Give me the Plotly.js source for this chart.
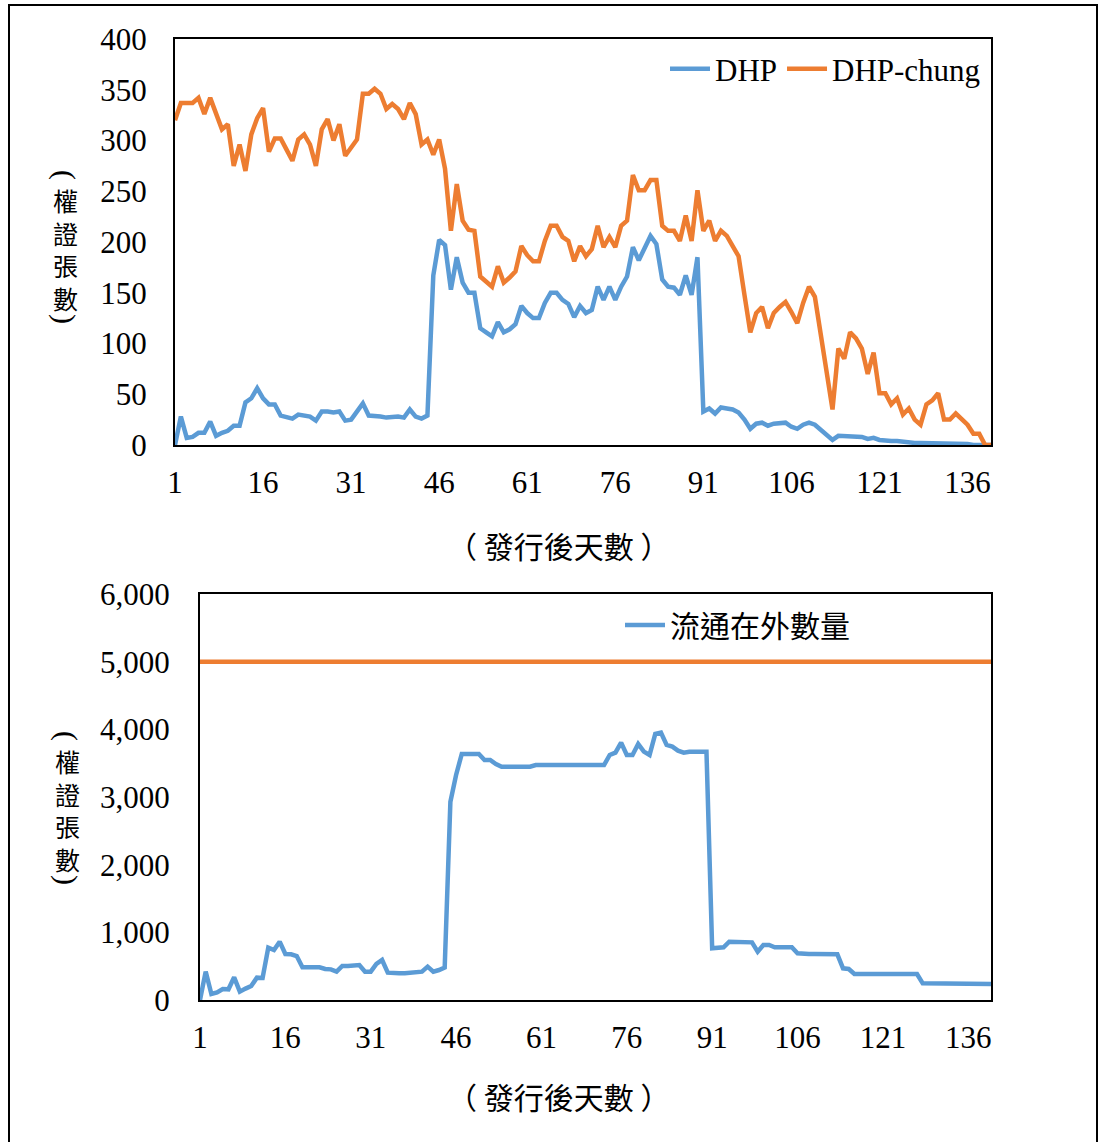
<!DOCTYPE html>
<html>
<head>
<meta charset="utf-8">
<script src="https://cdn.plot.ly/plotly-3.0.1.min.js"></script>
<style>
  html, body { margin: 0; padding: 0; background: #fff; }
  #chart { width: 1105px; height: 1142px; }
</style>
</head>
<body>
<div id="chart"></div>
<script>
// Days after issuance
const days = Array.from({length: 140}, (_, i) => i + 1);
const dayTicks = [1, 16, 31, 46, 61, 76, 91, 106, 121, 136];

// Top panel: warrant counts
const dhp = [
  0, 28, 7, 8, 12, 12, 23, 9, 12, 14,
  19, 19, 42, 46, 56, 46, 40, 40, 29, 27,
  26, 30, 29, 28, 24, 33, 33, 32, 33, 24,
  25, 33, 41, 29, 29, 28, 27, 28, 28, 27,
  35, 28, 26, 29, 167, 202, 197, 153, 185, 160,
  150, 150, 115, 111, 107, 121, 111, 114, 119, 137,
  130, 125, 125, 140, 150, 150, 143, 139, 126, 137,
  130, 133, 156, 143, 156, 143, 156, 166, 195, 182,
  195, 206, 198, 163, 156, 155, 148, 167, 148, 185,
  33, 36, 31, 37, 36, 35, 32, 25, 16, 21,
  22, 19, 21, 21, 22, 18, 16, 20, 22, 20,
  15, 10, 5, 9, 9, 9, 8, 8, 6, 7,
  5, 4, 4, 4, 3, 3, 2, 2, 2, 2,
  2, 2, 1, 1, 1, 1, 0, 0, 0, 0
];
const dhpChung = [
  320, 337, 337, 337, 342, 326, 342, 326, 311, 316,
  275, 296, 270, 306, 322, 332, 289, 302, 302, 291,
  280, 301, 306, 296, 275, 311, 321, 300, 316, 285,
  294, 301, 346, 346, 351, 346, 331, 336, 331, 321,
  337, 326, 296, 301, 286, 301, 272, 211, 257, 221,
  212, 211, 166, 161, 156, 176, 160, 165, 171, 196,
  187, 181, 181, 201, 216, 216, 205, 201, 181, 196,
  186, 193, 216, 195, 205, 195, 216, 221, 266, 251,
  251, 261, 261, 216, 211, 211, 201, 226, 201, 251,
  211, 221, 201, 211, 206, 196, 186, 148, 111, 130,
  136, 115, 130, 136, 141, 131, 120, 140, 156, 146,
  110, 75, 35, 95, 85, 111, 105, 95, 70, 91,
  51, 51, 40, 46, 30, 36, 25, 20, 40, 44,
  51, 25, 25, 31, 25, 20, 11, 11, 0, 0
];

// Bottom panel: outstanding quantity and issue size
const outstanding = [
  0, 419, 89, 113, 163, 158, 335, 123, 168, 207,
  330, 325, 773, 739, 862, 680, 675, 650, 483, 478,
  478, 483, 458, 453, 419, 503, 503, 517, 517, 419,
  419, 532, 591, 404, 394, 394, 394, 404, 409, 419,
  493, 419, 443, 480, 2931, 3326, 3636, 3636, 3636, 3636,
  3547, 3547, 3488, 3448, 3448, 3448, 3448, 3448, 3448, 3473,
  3473, 3473, 3473, 3473, 3473, 3473, 3473, 3473, 3473, 3473,
  3473, 3473, 3621, 3656, 3803, 3621, 3621, 3784, 3670, 3621,
  3932, 3951, 3769, 3744, 3685, 3656, 3670, 3670, 3656, 3670,
  764, 779, 779, 862, 862, 862, 852, 852, 714, 813,
  813, 779, 779, 779, 779, 690, 680, 680, 680, 680,
  675, 675, 675, 468, 458, 384, 384, 384, 384, 384,
  384, 384, 384, 384, 384, 384, 384, 246, 246, 246,
  246, 246, 246, 246, 246, 246, 246, 240, 237, 237
];
const issueSize = days.map(() => 5000);

const BLUE = '#5B9BD5';
const ORANGE = '#ED7D31';
const FONT = "'Liberation Serif', 'Times New Roman', 'Noto Sans CJK TC', serif";
const CJK = "'Noto Sans CJK TC', 'Liberation Serif', serif";
const W = 1105, H = 1142;
const px = v => v / W;
const py = v => 1 - v / H;

const traces = [
  { x: days, y: dhp, type: 'scatter', mode: 'lines', name: 'DHP',
    line: {color: BLUE, width: 4.5}, xaxis: 'x', yaxis: 'y', legend: 'legend' },
  { x: days, y: dhpChung, type: 'scatter', mode: 'lines', name: 'DHP-chung',
    line: {color: ORANGE, width: 4.5}, xaxis: 'x', yaxis: 'y', legend: 'legend' },
  { x: days, y: outstanding, type: 'scatter', mode: 'lines', name: '流通在外數量',
    line: {color: BLUE, width: 4.5}, xaxis: 'x2', yaxis: 'y2', legend: 'legend2' },
  { x: days, y: issueSize, type: 'scatter', mode: 'lines', name: '發行張數',
    line: {color: ORANGE, width: 4.5}, xaxis: 'x2', yaxis: 'y2', showlegend: false }
];

const axisBase = {
  showgrid: false, zeroline: false, showline: true, mirror: true,
  linecolor: '#000', linewidth: 2,
  ticks: 'outside', tickcolor: 'rgba(0,0,0,0)',
  tickfont: {family: FONT, size: 31, color: '#000'}
};

// Vertical axis title: rotated brackets around stacked characters
function verticalTitle(cx, cy) {
  const common = {xref: 'paper', yref: 'paper', showarrow: false,
    xanchor: 'center', yanchor: 'middle'};
  return [
    Object.assign({}, common, { text: '(', textangle: 90, x: px(cx), y: py(cy - 74),
      font: {family: FONT, size: 30, color: '#000'} }),
    Object.assign({}, common, { text: '權<br>證<br>張<br>數', x: px(cx), y: py(cy),
      font: {family: CJK, size: 25, color: '#000'} }),
    Object.assign({}, common, { text: ')', textangle: 90, x: px(cx), y: py(cy + 70),
      font: {family: FONT, size: 30, color: '#000'} })
  ];
}

const xTitle = '（ 發行後天數 ）';

const layout = {
  width: W, height: H,
  margin: {l: 0, r: 0, t: 0, b: 0},
  paper_bgcolor: '#fff', plot_bgcolor: '#fff',
  font: {family: FONT, color: '#000'},
  xaxis: Object.assign({}, axisBase, {
    domain: [px(175), px(991)], anchor: 'y', range: [1, 140],
    tickvals: dayTicks, ticklen: 9
  }),
  yaxis: Object.assign({}, axisBase, {
    domain: [py(445), py(39)], anchor: 'x', range: [0, 400],
    dtick: 50, ticklen: 20
  }),
  xaxis2: Object.assign({}, axisBase, {
    domain: [px(200), px(991)], anchor: 'y2', range: [1, 140],
    tickvals: dayTicks, ticklen: 9
  }),
  yaxis2: Object.assign({}, axisBase, {
    domain: [py(1000), py(594)], anchor: 'x2', range: [0, 6000],
    dtick: 1000, tickformat: ',d', ticklen: 22
  }),
  legend: {
    orientation: 'h', x: px(986), xanchor: 'right', y: py(69), yanchor: 'middle',
    bgcolor: 'rgba(0,0,0,0)', font: {family: FONT, size: 31, color: '#000'},
    itemwidth: 40
  },
  legend2: {
    orientation: 'h', x: px(620), xanchor: 'left', y: py(625), yanchor: 'middle',
    bgcolor: 'rgba(0,0,0,0)', font: {family: CJK, size: 30, color: '#000'},
    itemwidth: 40
  },
  annotations: [].concat(
    verticalTitle(65, 249),
    verticalTitle(67, 810),
    [
      { text: xTitle, xref: 'paper', yref: 'paper', x: px(558), y: py(545),
        xanchor: 'center', yanchor: 'middle', showarrow: false,
        font: {family: CJK, size: 30, color: '#000'} },
      { text: xTitle, xref: 'paper', yref: 'paper', x: px(558), y: py(1096),
        xanchor: 'center', yanchor: 'middle', showarrow: false,
        font: {family: CJK, size: 30, color: '#000'} }
    ]
  ),
  shapes: [
    { type: 'rect', xref: 'paper', yref: 'paper',
      x0: px(9), x1: px(1097), y0: py(1150), y1: py(5),
      line: {color: '#000', width: 2}, fillcolor: 'rgba(0,0,0,0)' }
  ]
};

Plotly.newPlot('chart', traces, layout, {displayModeBar: false, staticPlot: true});
</script>
</body>
</html>
